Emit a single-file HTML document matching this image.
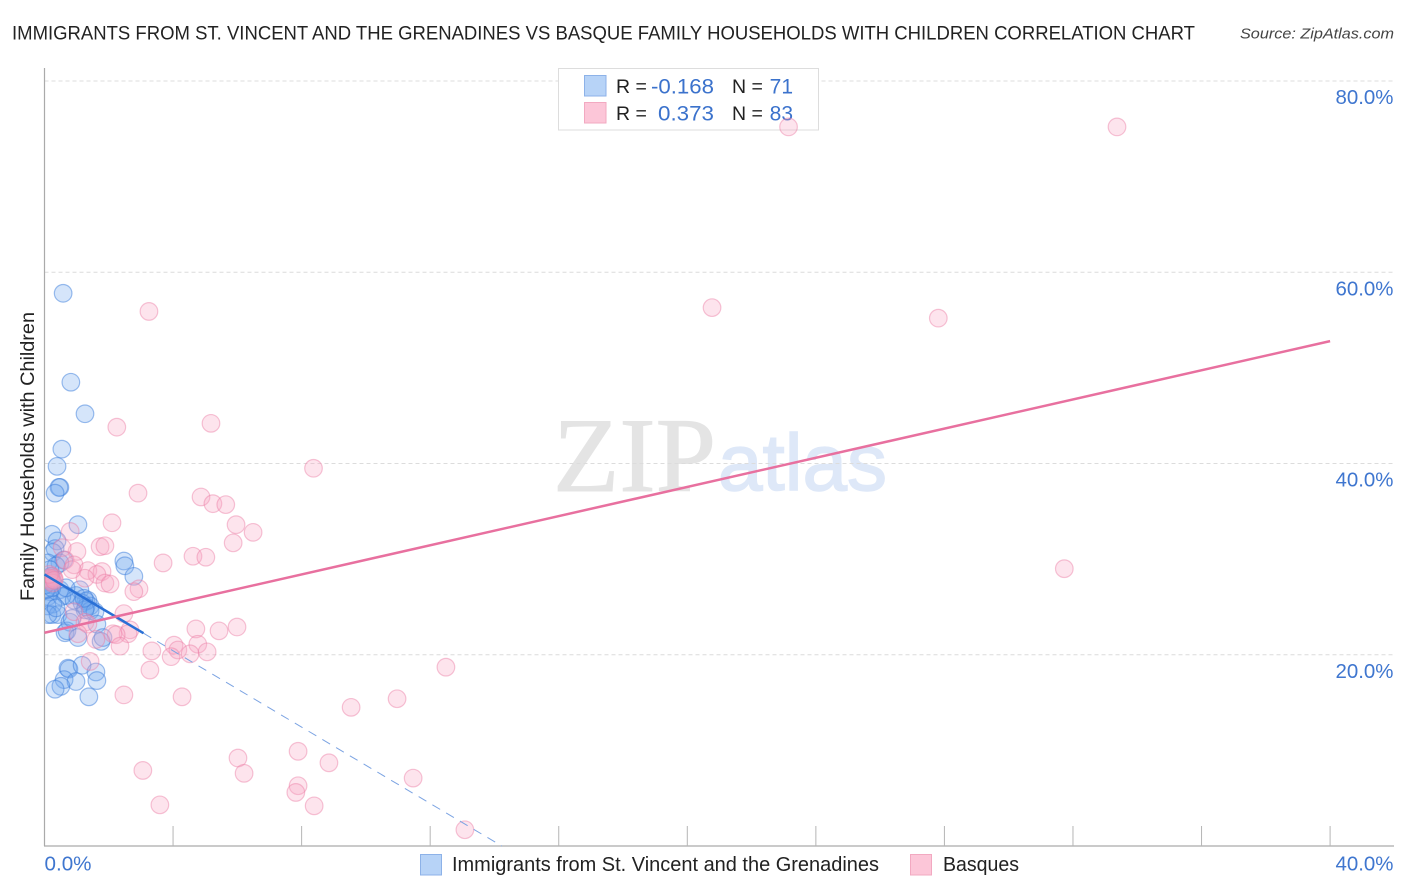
<!DOCTYPE html>
<html lang="en">
<head>
<meta charset="utf-8">
<title>Immigrants from St. Vincent and the Grenadines vs Basque Family Households with Children Correlation Chart</title>
<style>
html,body{margin:0;padding:0;background:#fff;width:1406px;height:892px;overflow:hidden}
svg{display:block}
text{font-family:"Liberation Sans",sans-serif}
</style>
</head>
<body>
<svg id="chart" width="1406" height="892" viewBox="0 0 1406 892" xmlns="http://www.w3.org/2000/svg">
  <defs>
    <clipPath id="plot-clip"><rect x="45" y="60" width="1350" height="786"/></clipPath>
  </defs>
  <text x="12" y="39.5" font-size="19.5" fill="#222" textLength="1183" lengthAdjust="spacingAndGlyphs">IMMIGRANTS FROM ST. VINCENT AND THE GRENADINES VS BASQUE FAMILY HOUSEHOLDS WITH CHILDREN CORRELATION CHART</text>
  <text x="1394" y="38.5" font-size="15" font-style="italic" fill="#444" text-anchor="end" textLength="154" lengthAdjust="spacingAndGlyphs">Source: ZipAtlas.com</text>
  <g id="watermark">
    <text x="553" y="491" font-size="106" fill="#e4e4e4" stroke="#e4e4e4" stroke-width="1" style="font-family:'Liberation Serif',serif" textLength="163" lengthAdjust="spacingAndGlyphs">ZIP</text>
    <text x="718" y="490" font-size="80" fill="#deE8f8" stroke="#dee8f8" stroke-width="1.5" textLength="169" lengthAdjust="spacingAndGlyphs">atlas</text>
  </g>
  <g id="grid"></g>
  <g id="axes"></g>
  <g id="stats-legend">
    <rect x="558.5" y="68.5" width="260" height="61.5" fill="#fff" stroke="#ddd" stroke-width="1"/>
    <rect x="584.5" y="75.5" width="21.5" height="20.5" fill="#b7d3f7" stroke="#8db2e8" stroke-width="1"/>
    <rect x="584.5" y="102.5" width="21.5" height="20.5" fill="#fcc6d8" stroke="#f2a9c1" stroke-width="1"/>
    <text x="616" y="93" font-size="19.5" fill="#222">R =</text>
    <text x="651" y="93.5" font-size="21" fill="#3b72cc" textLength="63" lengthAdjust="spacingAndGlyphs">-0.168</text>
    <text x="732" y="93" font-size="19.5" fill="#222">N =</text>
    <text x="793" y="93.5" font-size="21" fill="#3b72cc" text-anchor="end">71</text>
    <text x="616" y="120" font-size="19.5" fill="#222">R =</text>
    <text x="658" y="120.5" font-size="21" fill="#3b72cc" textLength="56" lengthAdjust="spacingAndGlyphs">0.373</text>
    <text x="732" y="120" font-size="19.5" fill="#222">N =</text>
    <text x="793" y="120.5" font-size="21" fill="#3b72cc" text-anchor="end">83</text>
  </g>
  <g id="points-immigrants" clip-path="url(#plot-clip)"></g>
  <g id="points-basques" clip-path="url(#plot-clip)"></g>
  <g id="trends"></g>
  <text transform="translate(34 456.5) rotate(-90)" font-size="19.5" fill="#222" text-anchor="middle" textLength="289" lengthAdjust="spacingAndGlyphs">Family Households with Children</text>
  <g id="bottom-legend">
    <rect x="420.5" y="854.5" width="21" height="20.5" fill="#b7d3f7" stroke="#8db2e8" stroke-width="1"/>
    <text x="452" y="871" font-size="20" fill="#222" textLength="427" lengthAdjust="spacingAndGlyphs">Immigrants from St. Vincent and the Grenadines</text>
    <rect x="910.5" y="854.5" width="21" height="20.5" fill="#fcc6d8" stroke="#f2a9c1" stroke-width="1"/>
    <text x="943" y="871" font-size="20" fill="#222" textLength="76" lengthAdjust="spacingAndGlyphs">Basques</text>
  </g>
</svg>
<script>
const yTicks = [20, 40, 60, 80];
const yTickLabels = ["20.0%", "40.0%", "60.0%", "80.0%"];
const xTicks = [0, 4, 8, 12, 16, 20, 24, 28, 32, 36, 40];
const xEndValues = [0, 40];
const xEndLabels = ["0.0%", "40.0%"];

const immigrantsX = [0.58,0.82,1.26,0.54,0.39,0.48,0.45,0.33,1.04,0.23,0.39,0.33,0.26,2.47,2.5,2.78,0.6,0.48,0.11,0.36,0.17,0.2,0.18,0.25,0.15,0.22,0.48,1.1,0.98,0.17,0.67,0.54,0.11,0.26,0.08,1.35,1.29,1.17,1.42,1.29,1.42,1.57,1.26,0.23,0.42,0.11,0.79,1.63,0.64,0.7,1.04,1.76,1.82,0.73,0.76,1.17,1.6,1.63,0.61,0.98,0.51,0.33,1.38,0.86,0.92,1.23,0.05,0.02,0.23,0.67,0.36];
const immigrantsY = [57.8,48.5,45.2,41.5,39.7,37.5,37.5,36.9,33.6,32.6,31.9,31.1,30.7,29.8,29.3,28.2,29.9,29.6,29.6,29.3,28.9,28.2,28.0,27.7,27.6,27.3,26.8,26.8,26.2,26.6,26.2,26.1,26.1,25.3,25.1,25.7,25.6,25.4,25.1,25.0,24.6,24.5,24.7,24.2,24.2,24.2,23.4,23.2,22.3,22.5,21.8,21.4,21.8,18.6,18.5,18.9,18.2,17.3,17.4,17.2,16.7,16.4,15.6,23.8,25.7,25.9,26.8,27.3,27,27,24.9];

const basquesX = [23.15,33.37,3.25,20.77,27.81,2.25,5.18,8.37,2.91,4.87,5.24,5.64,2.1,5.96,6.49,0.8,5.87,1.73,1.88,4.62,5.02,1.01,0.55,3.69,31.73,0.64,0.92,1.35,1.79,1.63,1.26,0.86,1.88,2.04,2.94,2.78,2.47,0.92,1.26,1.35,2.66,2.6,2.13,2.23,1.04,1.6,2.35,5.99,5.43,4.71,4.03,4.15,3.34,4.77,5.06,4.53,3.94,3.28,1.42,12.49,2.47,4.28,10.97,9.54,6.02,7.89,6.21,3.06,8.85,11.47,7.89,7.82,3.59,8.39,13.08,0.15,0.2,0.25,0.2,0.3,0.25,0.15,0.3];
const basquesY = [75.2,75.2,55.9,56.3,55.2,43.8,44.2,39.5,36.9,36.5,35.8,35.7,33.8,33.6,32.8,32.9,31.7,31.3,31.4,30.3,30.2,30.8,31.2,29.6,29.0,29.9,29.4,28.8,28.7,28.4,28.0,28.9,27.5,27.4,26.9,26.6,24.3,24.5,23.4,23.2,22.6,22.2,22.2,22.1,22.2,21.6,20.9,22.9,22.5,22.7,21.0,20.5,20.4,21.1,20.3,20.1,19.8,18.4,19.3,18.7,15.8,15.6,15.4,14.5,9.2,9.9,7.6,7.9,8.7,7.1,6.3,5.6,4.3,4.2,1.7,28,27.9,28.2,27.7,28,27.5,28.4,27.8];

const immigrantsTrend = [28.4, -1.996];
const immigrantsSolidRange = [0, 3.08];
const immigrantsDashedRange = [3.08, 14.23];
const basquesTrend = [22.3, 0.7625];
const basquesRange = [0, 40];

const NS = "http://www.w3.org/2000/svg";
function sx(v) { return 44.5 + v * 32.14; }
function sy(v) { return 846 - v * 9.5625; }
function make(tag, parent, attrs) {
  const el = document.createElementNS(NS, tag);
  for (const k in attrs) el.setAttribute(k, attrs[k]);
  parent.appendChild(el);
  return el;
}

const grid = document.getElementById("grid");
const axes = document.getElementById("axes");

yTicks.forEach(function (t, i) {
  const g = make("line", grid, { x1: 44.5, x2: 1393, y1: sy(t), y2: sy(t), stroke: "#dcdcdc", "stroke-width": 1, "stroke-dasharray": "4 3" });
  
  
  const lab = make("text", axes, { x: 1393.5, y: sy(t) + 23, "font-size": 20, fill: "#3f76cf", "text-anchor": "end", textLength: 58, lengthAdjust: "spacingAndGlyphs" });
  lab.textContent = yTickLabels[i];
  
  
});

const yAxis = make("line", axes, { x1: 44.5, x2: 44.5, y1: 68, y2: 846, stroke: "#aaa", "stroke-width": 1.2 });


const xAxis = make("line", axes, { x1: 44, x2: 1394, y1: 846, y2: 846, stroke: "#aaa", "stroke-width": 1.2 });



xTicks.slice(1).forEach(function (t) {
  const m = make("line", axes, { x1: sx(t), x2: sx(t), y1: 826, y2: 846, stroke: "#b5b5b5", "stroke-width": 1 });
  
  
});

xEndValues.forEach(function (t, i) {
  const lab = make("text", axes, { x: i === 0 ? sx(t) : 1393.5, y: 870.5, "font-size": 20, fill: "#3f76cf", "text-anchor": i === 0 ? "start" : "end", textLength: i === 0 ? 47 : 58, lengthAdjust: "spacingAndGlyphs" });
  lab.textContent = xEndLabels[i];
  
  
});

const blueGroup = document.getElementById("points-immigrants");
immigrantsX.forEach(function (x, i) {
  const c = make("circle", blueGroup, { cx: sx(x), cy: sy(immigrantsY[i]), r: 8.8, fill: "rgba(115,170,238,0.3)", stroke: "rgba(60,125,220,0.5)", "stroke-width": 1.2 });
  
  
});

const pinkGroup = document.getElementById("points-basques");
basquesX.forEach(function (x, i) {
  const c = make("circle", pinkGroup, { cx: sx(x), cy: sy(basquesY[i]), r: 8.8, fill: "rgba(247,165,195,0.3)", stroke: "rgba(235,125,165,0.45)", "stroke-width": 1.2 });
  
  
});

function trendY(tr, x) { return tr[0] + tr[1] * x; }
const trends = document.getElementById("trends");

const dashed = make("line", trends, { x1: sx(immigrantsDashedRange[0]), y1: sy(trendY(immigrantsTrend, immigrantsDashedRange[0])), x2: sx(immigrantsDashedRange[1]), y2: sy(trendY(immigrantsTrend, immigrantsDashedRange[1])), stroke: "#7ba3e2", "stroke-width": 1, "stroke-dasharray": "9 7" });



const solid = make("line", trends, { x1: sx(immigrantsSolidRange[0]), y1: sy(trendY(immigrantsTrend, immigrantsSolidRange[0])), x2: sx(immigrantsSolidRange[1]), y2: sy(trendY(immigrantsTrend, immigrantsSolidRange[1])), stroke: "#2a70d6", "stroke-width": 2.5 });



const pinkLine = make("line", trends, { x1: sx(basquesRange[0]), y1: sy(trendY(basquesTrend, basquesRange[0])), x2: sx(basquesRange[1]), y2: sy(trendY(basquesTrend, basquesRange[1])), stroke: "#e8709f", "stroke-width": 2.5 });


</script>
</body>
</html>
